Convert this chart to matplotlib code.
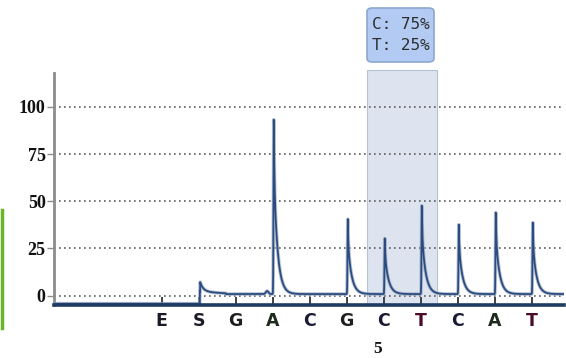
import numpy as np
import matplotlib
matplotlib.use("Agg")
import matplotlib.pyplot as plt
from matplotlib.patches import FancyBboxPatch, Rectangle
from matplotlib.lines import Line2D

# ---- data ----
dispensation = ["E", "S", "G", "A", "C", "G", "C", "T", "C", "A", "T"]
peak_heights = [0, 7, 0, 94, 0, 40, 30, 47, 37, 44, 38]
yticks = [0, 25, 50, 75, 100]
variable_label = "5"
variable_text = "C: 75%\nT: 25%"
letter_colors = {"E": "#1c1a2a", "S": "#1c1a2a", "G": "#1e1e1e",
                 "A": "#1e2a1c", "C": "#1a1a34", "T": "#4a0c2c"}

W, H = 566, 358
fig = plt.figure(figsize=(W / 100, H / 100), dpi=100)
ax = fig.add_axes([54 / W, 1 - 305 / H, (564 - 54) / W, (305 - 73) / H])

x0 = 161.7
dx = 37.0
def px2i(p):
    return (p - x0) / dx

xlim = (px2i(54), px2i(564))
ax.set_xlim(*xlim)
ax.set_ylim(-5, 118)

# ---- trace ----
xs = np.linspace(xlim[0], xlim[1], 5000)
y = np.where(xs < 1.04, -4.3, 0.8)
for i, h in enumerate(peak_heights):
    if h <= 0:
        continue
    d = xs - (i + 0.03)
    if i == 1:
        shape = np.where(d < 0, 0.0, 0.75 * np.exp(-d / 0.08) + 0.25 * np.exp(-d / 0.5))
        y = y + h * shape * (d < 0.7)
    else:
        shape = np.where(d < 0, np.exp(-(d / 0.012) ** 2),
                         0.3 * np.exp(-d / 0.012) + 0.7 * np.exp(-d / 0.1))
        y = y + h * shape
# small bump before A
y = y + 1.6 * np.exp(-((xs - 2.85) / 0.05) ** 2)
ax.plot(xs, y, color="#9aa8bf", lw=2.6, zorder=3, alpha=0.7)
ax.plot(xs, y, color="#2b4c80", lw=1.3, zorder=3)

# ---- shaded variable position ----
ax.add_patch(Rectangle((px2i(367), -5), px2i(437) - px2i(367), 124.5,
                       fc="#dde4ef", ec="#b8c2d2", lw=0.8, zorder=1,
                       clip_on=False))

# ---- grid ----
for t in yticks:
    ax.axhline(t, color="#5e5e5e", lw=1.2, ls=(0, (1, 2.0)), zorder=2)

# ---- spines ----
for s in ["top", "right"]:
    ax.spines[s].set_visible(False)
ax.spines["left"].set_color("#8c8c8c")
ax.spines["left"].set_linewidth(2)
ax.spines["bottom"].set_color("#1f3a63")
ax.spines["bottom"].set_linewidth(2.6)
ax.spines["bottom"].set_zorder(4)

ax.set_yticks(yticks)
ax.set_yticklabels([str(t) for t in yticks], fontfamily="Liberation Serif",
                   fontweight="bold", fontsize=13, color="#111111")
ax.tick_params(axis="y", length=5, width=1, color="#8c8c8c", pad=1)

ax.set_xticks(range(len(dispensation)))
ax.set_xticklabels(dispensation, fontfamily="DejaVu Sans", fontweight="bold",
                   fontsize=12.5)
for lab, l in zip(ax.get_xticklabels(), dispensation):
    lab.set_color(letter_colors[l])
ax.tick_params(axis="x", direction="in", length=6, width=1.3, color="#333333",
               pad=5)

# ---- variable position number ----
fig.text(378 / W, 1 - 349 / H, variable_label, ha="center", va="center",
         fontfamily="Liberation Serif", fontweight="bold", fontsize=12.5,
         color="#111111")

# ---- annotation box ----
bx0, bx1, by0, by1 = 367, 434, 8, 62
box = FancyBboxPatch((bx0 / W, 1 - by1 / H), (bx1 - bx0) / W, (by1 - by0) / H,
                     boxstyle="round,pad=0,rounding_size=0.01",
                     transform=fig.transFigure, fc="#b3cbf3", ec="#8da6cf",
                     lw=1.2)
fig.patches.append(box)
fig.text((bx0 + bx1) / 2 / W, 1 - (by0 + by1) / 2 / H, variable_text,
         ha="center", va="center", fontfamily="DejaVu Sans Mono", fontsize=11.5,
         color="#2e2e2e", linespacing=1.45)

# ---- green edge bar ----
fig.lines.append(Line2D([1.5 / W, 1.5 / W], [1 - 210 / H, 1 - 328 / H],
                        transform=fig.transFigure, color="#6cb52a", lw=2.5))

fig.savefig("out.png", dpi=100)
